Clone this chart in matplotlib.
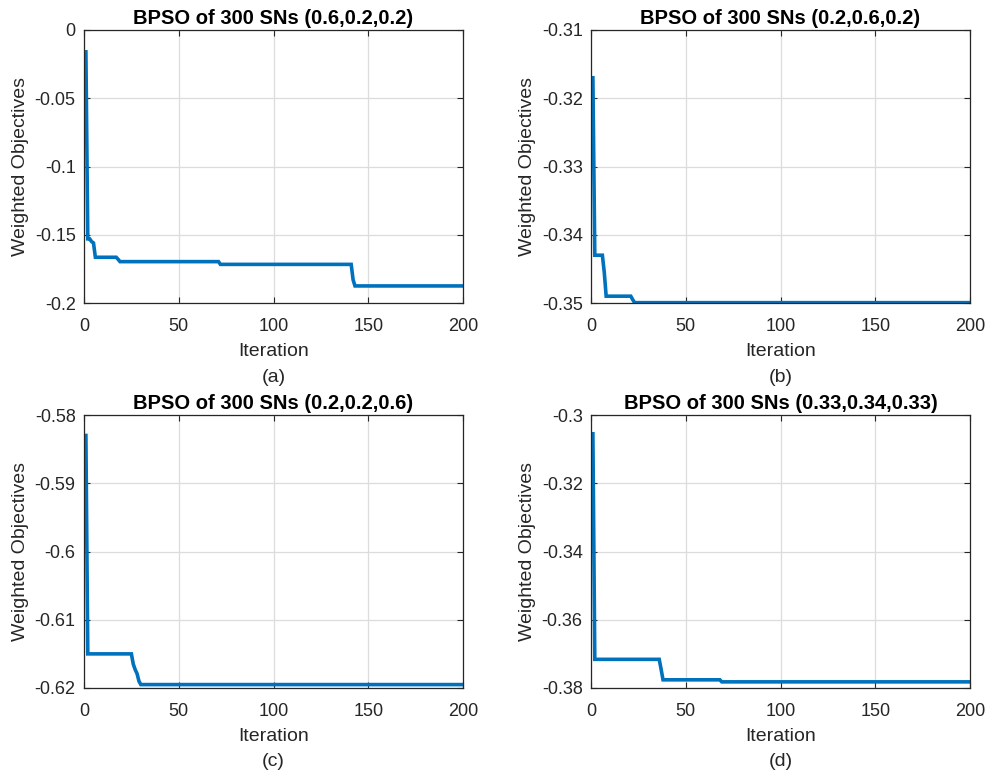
import numpy as np
import matplotlib
matplotlib.use("Agg")
import matplotlib.pyplot as plt

plt.rcParams['font.family'] = ['Liberation Sans', 'DejaVu Sans']
plt.rcParams['axes.unicode_minus'] = False

iters = np.arange(1, 201)

# step change points: (iteration where value starts, value)
steps_a = [(1, -0.016), (2, -0.153), (4, -0.155), (5, -0.156),
           (6, -0.1665), (18, -0.168), (19, -0.1697), (72, -0.1717),
           (142, -0.183), (143, -0.1875)]
steps_b = [(1, -0.317), (2, -0.343), (7, -0.3455), (8, -0.349),
           (22, -0.3495), (23, -0.34995)]
steps_c = [(1, -0.583), (2, -0.615), (26, -0.6165),
           (27, -0.6173), (28, -0.6179), (29, -0.619), (30, -0.6195)]
steps_d = [(1, -0.3055), (2, -0.3716), (37, -0.3745),
           (38, -0.3776), (69, -0.3782)]

titles = ["BPSO of 300 SNs (0.6,0.2,0.2)", "BPSO of 300 SNs (0.2,0.6,0.2)",
          "BPSO of 300 SNs (0.2,0.2,0.6)", "BPSO of 300 SNs (0.33,0.34,0.33)"]
captions = ["(a)", "(b)", "(c)", "(d)"]
yticks = [[0, -0.05, -0.1, -0.15, -0.2],
          [-0.31, -0.32, -0.33, -0.34, -0.35],
          [-0.58, -0.59, -0.6, -0.61, -0.62],
          [-0.3, -0.32, -0.34, -0.36, -0.38]]
ytick_labels = [["0", "-0.05", "-0.1", "-0.15", "-0.2"],
                ["-0.31", "-0.32", "-0.33", "-0.34", "-0.35"],
                ["-0.58", "-0.59", "-0.6", "-0.61", "-0.62"],
                ["-0.3", "-0.32", "-0.34", "-0.36", "-0.38"]]
xticks = [0, 50, 100, 150, 200]


def expand(steps):
    vals = np.empty(len(iters))
    for it_start, v in steps:
        vals[iters >= it_start] = v
    return vals


series = [expand(s) for s in (steps_a, steps_b, steps_c, steps_d)]

W, H = 985, 774
fig = plt.figure(figsize=(W / 100, H / 100), dpi=100)
positions = [(84, 30), (591, 30), (84, 415), (591, 415)]
aw, ah = 379, 273
dark = '#262626'

for i, (px, py) in enumerate(positions):
    ax = fig.add_axes([px / W, 1 - (py + ah) / H, aw / W, ah / H])
    ax.plot(iters, series[i], color='#0072BD', linewidth=2.6, solid_joinstyle='miter')
    ax.set_xlim(0, 200)
    ax.set_ylim(min(yticks[i]), max(yticks[i]))
    ax.set_xticks(xticks)
    ax.set_xticklabels([str(t) for t in xticks])
    ax.set_yticks(yticks[i])
    ax.set_yticklabels(ytick_labels[i])
    ax.grid(True, color='#dcdcdc', linewidth=0.9)
    ax.set_axisbelow(True)
    ax.tick_params(direction='in', length=4, width=0.8, colors=dark,
                   labelsize=13, pad=6, top=True, right=True)
    ax.tick_params(axis='x', pad=10.5)
    for sp in ax.spines.values():
        sp.set_color(dark)
        sp.set_linewidth(0.9)
    ax.set_title(titles[i], fontsize=14.5, fontweight='bold', color='black', pad=4.5)
    ax.set_xlabel("Iteration", fontsize=14, color=dark, labelpad=6)
    ax.set_ylabel("Weighted Objectives", fontsize=14, color=dark, labelpad=4)
    ax.text(0.5, -74 / ah, captions[i], transform=ax.transAxes, ha='center',
            va='center', fontsize=14, color=dark)

fig.savefig("out.png", dpi=100)
